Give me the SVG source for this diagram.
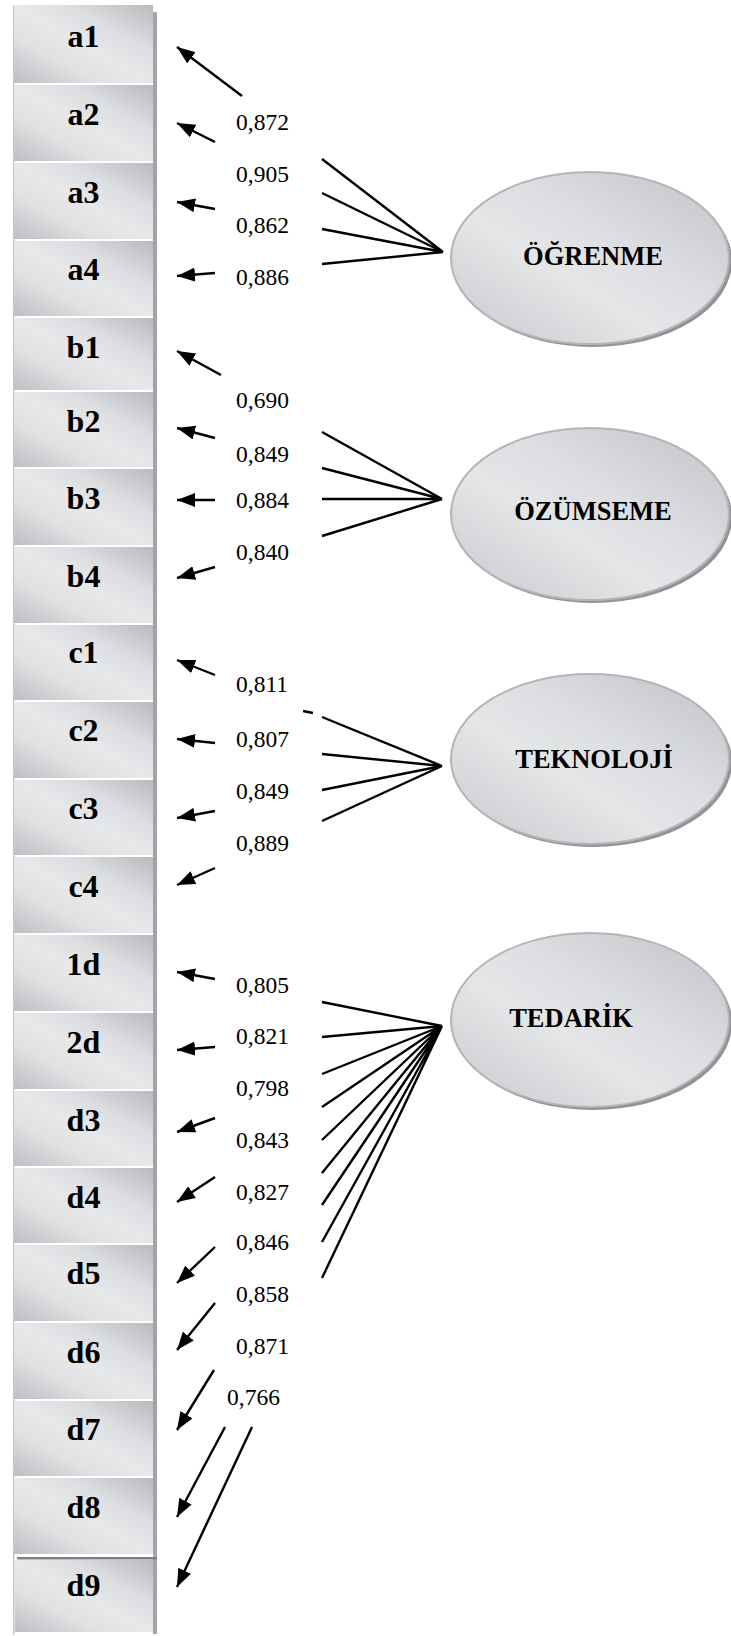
<svg xmlns="http://www.w3.org/2000/svg" width="731" height="1636" viewBox="0 0 731 1636">
  <defs>
    <linearGradient id="boxFill" x1="0" y1="1" x2="1" y2="0">
      <stop offset="0" stop-color="#bcbec1"/>
      <stop offset="0.3" stop-color="#e0e1e3"/>
      <stop offset="0.5" stop-color="#e7e8ea"/>
      <stop offset="0.7" stop-color="#dcdde0"/>
      <stop offset="1" stop-color="#b8babd"/>
    </linearGradient>
    <linearGradient id="ovalFill" x1="0" y1="1" x2="1" y2="0">
      <stop offset="0" stop-color="#c6c8cb"/>
      <stop offset="0.4" stop-color="#e5e6e8"/>
      <stop offset="0.6" stop-color="#dddee1"/>
      <stop offset="1" stop-color="#c0c2c5"/>
    </linearGradient>
    <marker id="head" markerUnits="userSpaceOnUse" markerWidth="18" markerHeight="14" refX="18" refY="7" orient="auto">
      <path d="M0,0 L18,7 L0,14 Z" fill="#000"/>
    </marker>
    <style>
      .box { fill: url(#boxFill); }
      .boxShadow { fill: #a2a4a8; }
      .boxLabel { font-family: "Liberation Serif", "Times New Roman", serif; font-weight: bold; font-size: 32px; fill: #000; text-anchor: middle; }
      .oval { fill: url(#ovalFill); stroke: #b3b5b8; stroke-width: 2; }
      .ovalShadow { fill: #909296; }
      .ovalLabel { font-family: "Liberation Serif", "Times New Roman", serif; font-weight: bold; font-size: 26.5px; fill: #000; text-anchor: middle; }
      .coef { font-family: "Liberation Serif", "Times New Roman", serif; font-size: 23.5px; fill: #000; }
      .arrow { stroke: #000; stroke-width: 2.4; fill: none; marker-end: url(#head); }
      .load { stroke: #000; stroke-width: 2.4; fill: none; }
    </style>
  </defs>

  <rect width="731" height="1636" fill="#ffffff"/>

  <!-- column frame of the indicator boxes -->
  <rect x="13" y="5" width="1.5" height="1630" fill="#c4c6c9"/>
  <rect x="153" y="12" width="4" height="1622" class="boxShadow"/>

  <!-- indicator boxes -->
  <g id="a1"><rect class="box" x="14" y="5" width="139" height="78"/><text class="boxLabel" x="83.5" y="47">a1</text></g>
  <g id="a2"><rect class="box" x="14" y="85" width="139" height="76"/><text class="boxLabel" x="83.5" y="125">a2</text></g>
  <g id="a3"><rect class="box" x="14" y="163" width="139" height="76"/><text class="boxLabel" x="83.5" y="203">a3</text></g>
  <g id="a4"><rect class="box" x="14" y="241" width="139" height="75"/><text class="boxLabel" x="83.5" y="280">a4</text></g>
  <g id="b1"><rect class="box" x="14" y="318" width="139" height="72"/><text class="boxLabel" x="83.5" y="358">b1</text></g>
  <g id="b2"><rect class="box" x="14" y="392" width="139" height="75"/><text class="boxLabel" x="83.5" y="432">b2</text></g>
  <g id="b3"><rect class="box" x="14" y="469" width="139" height="76"/><text class="boxLabel" x="83.5" y="509">b3</text></g>
  <g id="b4"><rect class="box" x="14" y="547" width="139" height="76"/><text class="boxLabel" x="83.5" y="587">b4</text></g>
  <g id="c1"><rect class="box" x="14" y="625" width="139" height="75"/><text class="boxLabel" x="83.5" y="663">c1</text></g>
  <g id="c2"><rect class="box" x="14" y="702" width="139" height="76"/><text class="boxLabel" x="83.5" y="741">c2</text></g>
  <g id="c3"><rect class="box" x="14" y="780" width="139" height="75"/><text class="boxLabel" x="83.5" y="819">c3</text></g>
  <g id="c4"><rect class="box" x="14" y="857" width="139" height="76"/><text class="boxLabel" x="83.5" y="897">c4</text></g>
  <g id="d1"><rect class="box" x="14" y="935" width="139" height="76"/><text class="boxLabel" x="83.5" y="975">1d</text></g>
  <g id="d2"><rect class="box" x="14" y="1013" width="139" height="76"/><text class="boxLabel" x="83.5" y="1053">2d</text></g>
  <g id="d3"><rect class="box" x="14" y="1091" width="139" height="75"/><text class="boxLabel" x="83.5" y="1131">d3</text></g>
  <g id="d4"><rect class="box" x="14" y="1168" width="139" height="75"/><text class="boxLabel" x="83.5" y="1208">d4</text></g>
  <g id="d5"><rect class="box" x="14" y="1245" width="139" height="76"/><text class="boxLabel" x="83.5" y="1284">d5</text></g>
  <g id="d6"><rect class="box" x="14" y="1323" width="139" height="76"/><text class="boxLabel" x="83.5" y="1363">d6</text></g>
  <g id="d7"><rect class="box" x="14" y="1401" width="139" height="75"/><text class="boxLabel" x="83.5" y="1440">d7</text></g>
  <g id="d8"><rect class="box" x="14" y="1478" width="139" height="76"/><text class="boxLabel" x="83.5" y="1518">d8</text></g>
  <g id="d9"><rect x="17" y="1557" width="140" height="2.5" fill="#7d7f83"/><rect class="box" x="15" y="1560" width="138" height="72"/><text class="boxLabel" x="83.5" y="1596">d9</text></g>

  <!-- latent constructs -->
  <g id="ogrenme">
    <ellipse class="ovalShadow" cx="593" cy="261" rx="139" ry="86"/>
    <ellipse class="oval" cx="590" cy="258" rx="139" ry="86"/>
    <text class="ovalLabel" x="593" y="265">ÖĞRENME</text>
  </g>
  <g id="ozumseme">
    <ellipse class="ovalShadow" cx="593" cy="517" rx="139" ry="86"/>
    <ellipse class="oval" cx="590" cy="514" rx="139" ry="86"/>
    <text class="ovalLabel" x="593" y="520">ÖZÜMSEME</text>
  </g>
  <g id="teknoloji">
    <ellipse class="ovalShadow" cx="593" cy="762" rx="139" ry="85"/>
    <ellipse class="oval" cx="590" cy="759" rx="139" ry="85"/>
    <text class="ovalLabel" x="594" y="768">TEKNOLOJİ</text>
  </g>
  <g id="tedarik">
    <ellipse class="ovalShadow" cx="593" cy="1023" rx="139" ry="87"/>
    <ellipse class="oval" cx="590" cy="1020" rx="139" ry="87"/>
    <text class="ovalLabel" x="571" y="1027">TEDARİK</text>
  </g>

  <!-- connectors: loadings fanning out of each construct, and arrows to the indicators -->
  <g id="connectors">
    <path class="load" d="M322,159 L443,252 M322,193 L443,252 M322,229 L443,252 M322,264 L443,252"/>
    <path class="load" d="M322,432 L442,499 M322,468 L442,499 M322,499 L442,499 M322,536 L442,499"/>
    <path class="load" d="M322,717 L442,766 M322,754 L442,766 M322,790 L442,766 M322,821 L442,766"/>
    <path class="load" d="M303,711 L313,713" stroke-width="1.5"/>
    <path class="load" d="M322,1002 L442,1026 M322,1037 L442,1026 M322,1074 L442,1026 M322,1107 L442,1026 M322,1140 L442,1026 M322,1173 L442,1026 M322,1205 L442,1026 M322,1242 L442,1026 M322,1278 L442,1026"/>

    <line class="arrow" x1="242" y1="96" x2="177" y2="47"/>
    <line class="arrow" x1="215" y1="142" x2="177" y2="123"/>
    <line class="arrow" x1="215" y1="209" x2="177" y2="202"/>
    <line class="arrow" x1="215" y1="273" x2="177" y2="276"/>
    <line class="arrow" x1="221" y1="375" x2="177" y2="351"/>
    <line class="arrow" x1="215" y1="438" x2="177" y2="428"/>
    <line class="arrow" x1="215" y1="500" x2="177" y2="500"/>
    <line class="arrow" x1="215" y1="567" x2="177" y2="578"/>
    <line class="arrow" x1="215" y1="675" x2="177" y2="660"/>
    <line class="arrow" x1="215" y1="743" x2="177" y2="739"/>
    <line class="arrow" x1="215" y1="811" x2="177" y2="818"/>
    <line class="arrow" x1="215" y1="868" x2="177" y2="885"/>
    <line class="arrow" x1="215" y1="979" x2="177" y2="972"/>
    <line class="arrow" x1="215" y1="1047" x2="177" y2="1050"/>
    <line class="arrow" x1="215" y1="1118" x2="177" y2="1132"/>
    <line class="arrow" x1="215" y1="1177" x2="177" y2="1202"/>
    <line class="arrow" x1="215" y1="1247" x2="177" y2="1283"/>
    <line class="arrow" x1="215" y1="1303" x2="177" y2="1350"/>
    <line class="arrow" x1="214" y1="1370" x2="177" y2="1430"/>
    <line class="arrow" x1="225" y1="1427" x2="177" y2="1517"/>
    <line class="arrow" x1="252" y1="1427" x2="177" y2="1587"/>
  </g>

  <!-- standardized loadings -->
  <g id="loadings">
    <text class="coef" x="236" y="130">0,872</text>
    <text class="coef" x="236" y="182">0,905</text>
    <text class="coef" x="236" y="233">0,862</text>
    <text class="coef" x="236" y="285">0,886</text>
    <text class="coef" x="236" y="408">0,690</text>
    <text class="coef" x="236" y="462">0,849</text>
    <text class="coef" x="236" y="508">0,884</text>
    <text class="coef" x="236" y="560">0,840</text>
    <text class="coef" x="236" y="692">0,811</text>
    <text class="coef" x="236" y="747">0,807</text>
    <text class="coef" x="236" y="799">0,849</text>
    <text class="coef" x="236" y="851">0,889</text>
    <text class="coef" x="236" y="993">0,805</text>
    <text class="coef" x="236" y="1044">0,821</text>
    <text class="coef" x="236" y="1096">0,798</text>
    <text class="coef" x="236" y="1148">0,843</text>
    <text class="coef" x="236" y="1200">0,827</text>
    <text class="coef" x="236" y="1250">0,846</text>
    <text class="coef" x="236" y="1302">0,858</text>
    <text class="coef" x="236" y="1354">0,871</text>
    <text class="coef" x="227" y="1405">0,766</text>
  </g>
</svg>
